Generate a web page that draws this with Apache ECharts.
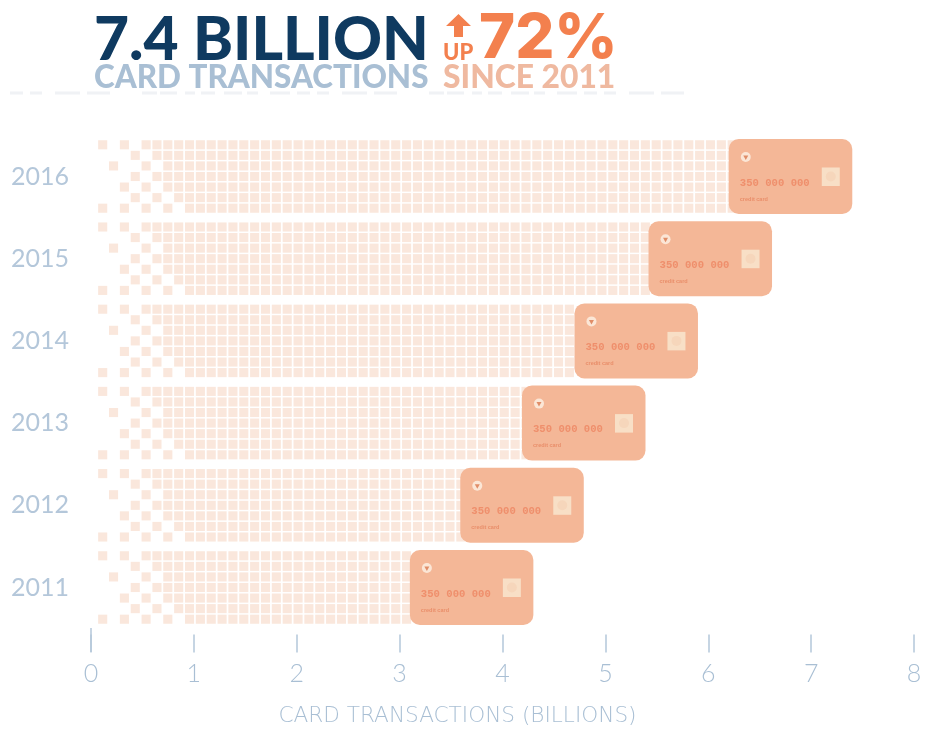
<!DOCTYPE html>
<html>
<head>
<meta charset="utf-8">
<style>html,body{margin:0;padding:0;background:#fff}#chart{width:925px;height:729px}</style>
<script src="https://cdn.jsdelivr.net/npm/echarts@6/dist/echarts.min.js"></script>
</head>
<body>
<div id="chart"></div>
<script>
// Yearly card transactions, in billions
const years = ['2011', '2012', '2013', '2014', '2015', '2016'];
const transactions = [4.3, 4.79, 5.39, 5.9, 6.62, 7.4];
const axisTicks = [0, 1, 2, 3, 4, 5, 6, 7, 8];

// Columns of the dissolving left edge of each bar, one list per row of squares
const fadeRows = [
  [0, 2, 4, 5, 6, 7, 8],
  [3, 5, 6, 7, 8],
  [1, 4, 6, 7, 8],
  [3, 5, 6, 7, 8],
  [2, 4, 6, 7, 8],
  [3, 5, 7, 8],
  [0, 2, 4, 6, 8]
];
const FADE_COLS = 9;

const CELL_STEP_VALUE = 0.1055;   // horizontal pitch of the squares, in billions
const CELL_START_VALUE = 0.1137;  // centre of the first column, in billions
const ROW_PITCH = 10.57;
const CELL_SIZE = 9.1;
const CARD_W = 123.5;
const CARD_H = 75;

const BLUE = '#b4c7da';
const ORANGE = '#f3804e';

function barSquares(api) {
  const value = api.value(0);
  const centre = api.coord([0, api.value(1)])[1];
  const cardLeft = api.coord([value, api.value(1)])[0] - CARD_W;
  const cells = [];
  for (let r = 0; r < 7; r++) {
    const y = centre + (r - 3) * ROW_PITCH;
    for (let c = 0; ; c++) {
      const x = api.coord([CELL_START_VALUE + c * CELL_STEP_VALUE, api.value(1)])[0];
      if (x - CELL_SIZE / 2 > cardLeft) break;
      if (c >= FADE_COLS || fadeRows[r].includes(c)) {
        cells.push({
          type: 'rect',
          shape: { x: x - CELL_SIZE / 2, y: y - CELL_SIZE / 2, width: CELL_SIZE, height: CELL_SIZE },
          style: { fill: '#fae7dc' }
        });
      }
    }
  }
  return cells;
}

function cardShapes(api) {
  const pos = api.coord([api.value(0), api.value(1)]);
  const left = pos[0] - CARD_W;
  const top = pos[1] - CARD_H / 2;
  return [
    { type: 'rect', shape: { x: left, y: top, width: CARD_W, height: CARD_H, r: 10 }, style: { fill: '#f4b797' } },
    { type: 'circle', shape: { cx: left + 17, cy: top + 18, r: 5 }, style: { fill: '#fbe6d6' } },
    { type: 'polygon', shape: { points: [[left + 14.5, top + 16.5], [left + 19.5, top + 16.5], [left + 17, top + 21]] }, style: { fill: '#e08d68' } },
    { type: 'rect', shape: { x: left + 93, y: top + 28.5, width: 18, height: 18.5 }, style: { fill: '#f8dfc6' } },
    { type: 'circle', shape: { cx: left + 102, cy: top + 37.5, r: 5 }, style: { fill: '#f6d6bb' } },
    { type: 'text', x: left + 11, y: top + 44, style: {
        text: '350 000 000', fill: '#ef8f6c', font: 'bold 10.6px "Liberation Mono"', textVerticalAlign: 'middle' } },
    { type: 'text', x: left + 11, y: top + 60, style: {
        text: 'credit card', fill: '#e98e6a', font: 'bold 5.5px "Liberation Sans"', textVerticalAlign: 'middle' } }
  ];
}

const chart = echarts.init(document.getElementById('chart'), null, { renderer: 'canvas' });
const seriesData = transactions.map((v, i) => [v, i]);

chart.setOption({
  animation: false,
  backgroundColor: '#ffffff',
  title: [
    { text: '7.4 BILLION', left: 89, top: 5, textStyle: { fontFamily: 'Lato', fontWeight: 900, fontSize: 60.5, color: '#0f3a60' } },
    { text: 'CARD TRANSACTIONS', left: 89, top: 57, textStyle: { fontFamily: 'Lato', fontWeight: 900, fontSize: 31.4, color: '#a9bfd4' } },
    { text: '72%', left: 474, top: 4, textStyle: { fontFamily: 'Inter', fontWeight: 800, fontSize: 61.5, color: ORANGE } },
    { text: 'UP', left: 438, top: 37, textStyle: { fontFamily: 'Lato', fontWeight: 900, fontSize: 22, color: ORANGE } },
    { text: 'SINCE 2011', left: 438, top: 57, textStyle: { fontFamily: 'Lato', fontWeight: 900, fontSize: 31.8, color: '#efb9a0' } }
  ],
  graphic: [
    { type: 'polygon', silent: true,
      shape: { points: [[458.5, 14], [471, 26], [463, 26], [463, 37], [454, 37], [454, 26], [446, 26]] },
      style: { fill: ORANGE } },
    { type: 'line', silent: true,
      shape: { x1: 10, y1: 93, x2: 705, y2: 93 },
      style: { stroke: '#f0f2f5', lineWidth: 3, lineDash: [13, 7, 12, 13, 25, 7, 23, 32, 15, 3, 17, 8, 10, 6, 14, 9, 18, 5, 11, 12, 20, 7] } }
  ],
  grid: { left: 91, right: 11, top: 135.4, bottom: 100.4, outerBoundsMode: 'none' },
  xAxis: {
    type: 'value', min: axisTicks[0], max: axisTicks[axisTicks.length - 1], interval: 1,
    offset: 6,
    splitLine: { show: false },
    axisLine: { show: false },
    axisTick: { show: true, length: 18, lineStyle: { color: BLUE, width: 1.5 } },
    axisLabel: { margin: 27, fontFamily: 'Lato', fontWeight: 300, fontSize: 25, color: '#a9bfd4' },
    name: 'CARD TRANSACTIONS (BILLIONS)',
    nameLocation: 'middle',
    nameGap: 71,
    nameTextStyle: { fontFamily: '"DejaVu Sans ExtraLight", "DejaVu Sans"', fontWeight: 300, fontSize: 21.6, color: '#a9bfd4', padding: [0, 90, 0, 0] }
  },
  yAxis: {
    type: 'category', data: years,
    axisLine: { show: false },
    axisTick: { show: false },
    splitLine: { show: false },
    axisLabel: { margin: 51, align: 'center', padding: [6, 0, 0, 0], fontFamily: 'Lato', fontWeight: 400, fontSize: 25, color: BLUE }
  },
  series: [
    {
      type: 'custom', name: 'Transactions', coordinateSystem: 'cartesian2d', clip: false, silent: true,
      encode: { x: 0, y: 1 }, data: seriesData,
      renderItem: (params, api) => ({ type: 'group', children: barSquares(api).concat(cardShapes(api)) })
    },
    {
      // Longer stem marking the origin of the value axis
      type: 'custom', name: 'Origin', coordinateSystem: 'cartesian2d', clip: false, silent: true,
      encode: { x: 0, y: 1 }, data: [[axisTicks[0], 0]],
      renderItem: (params, api) => {
        const x = api.coord([api.value(0), 0])[0];
        return { type: 'line', shape: { x1: x, y1: 628, x2: x, y2: 652 }, style: { stroke: BLUE, lineWidth: 1.5 } };
      }
    }
  ]
});
</script>
</body>
</html>
